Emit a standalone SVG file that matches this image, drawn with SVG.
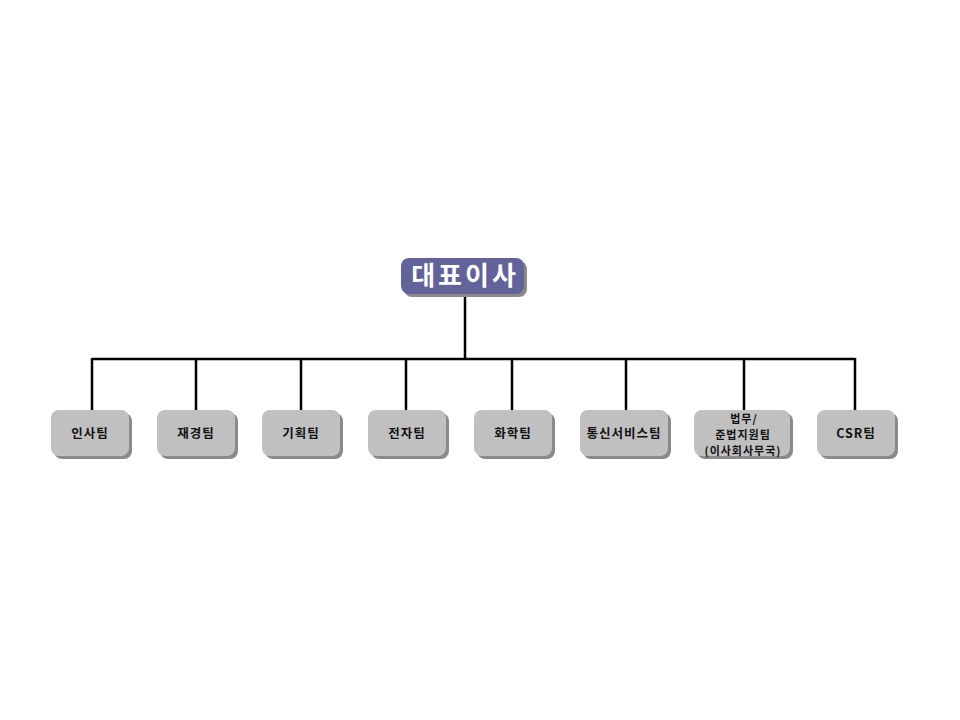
<svg xmlns="http://www.w3.org/2000/svg" width="960" height="720" viewBox="0 0 960 720">
<style>
.sh{fill:#8a8a8a}
.bx{fill:#c0c0c0}
.t{font-family:"Noto Sans CJK KR","Liberation Sans",sans-serif;font-weight:bold;font-size:12.5px;fill:#111;text-anchor:middle;letter-spacing:1px}
.s{font-size:11px}
.top{fill:#62639b}
.tt{font-family:"Noto Sans CJK KR","Liberation Sans",sans-serif;font-weight:bold;font-size:26px;fill:#fff;text-anchor:middle;letter-spacing:3px}
.c{stroke:#000;stroke-width:2.5;fill:none}
</style>
<rect width="960" height="720" fill="#fff"/>
<g id="connectors">
<path class="c" d="M465 294V359M92 359H855M92 358V411M196 358V411M301 358V411M406 358V411M512 358V411M626 358V411M744 358V411M855 358V411"/>
</g>
<g id="ceo">
<rect class="sh" x="404" y="261" width="123" height="36" rx="8"/>
<rect class="top" x="401" y="258" width="123" height="36" rx="8"/>
<text class="tt" x="465" y="285">대표이사</text>
</g>
<g id="n1"><rect class="sh" x="54" y="413" width="78" height="46" rx="8"/><rect class="bx" x="51" y="410" width="78" height="46" rx="8"/><text class="t" x="90" y="438">인사팀</text></g>
<g id="n2"><rect class="sh" x="160" y="413" width="78" height="46" rx="8"/><rect class="bx" x="157" y="410" width="78" height="46" rx="8"/><text class="t" x="196" y="438">재경팀</text></g>
<g id="n3"><rect class="sh" x="265" y="413" width="78" height="46" rx="8"/><rect class="bx" x="262" y="410" width="78" height="46" rx="8"/><text class="t" x="301" y="438">기획팀</text></g>
<g id="n4"><rect class="sh" x="371" y="413" width="78" height="46" rx="8"/><rect class="bx" x="368" y="410" width="78" height="46" rx="8"/><text class="t" x="407" y="438">전자팀</text></g>
<g id="n5"><rect class="sh" x="477" y="413" width="78" height="46" rx="8"/><rect class="bx" x="474" y="410" width="78" height="46" rx="8"/><text class="t" x="513" y="438">화학팀</text></g>
<g id="n6"><rect class="sh" x="583" y="413" width="88" height="46" rx="8"/><rect class="bx" x="580" y="410" width="88" height="46" rx="8"/><text class="t" x="624" y="438">통신서비스팀</text></g>
<g id="n7"><rect class="sh" x="697" y="413" width="96" height="46" rx="8"/><rect class="bx" x="694" y="410" width="96" height="46" rx="8"/>
<text class="t s" x="744" y="423">법무/</text><text class="t s" x="743" y="439">준법지원팀</text><text class="t s" x="743" y="455">(이사회사무국)</text></g>
<g id="n8"><rect class="sh" x="820" y="413" width="78" height="46" rx="8"/><rect class="bx" x="817" y="410" width="78" height="46" rx="8"/><text class="t" x="856" y="438">CSR팀</text></g>
</svg>
